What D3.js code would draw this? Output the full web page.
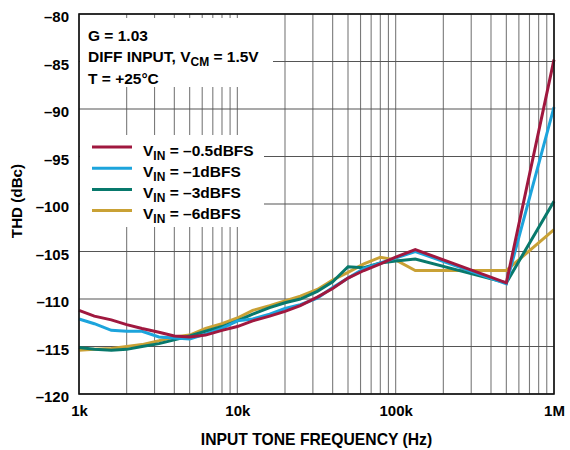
<!DOCTYPE html>
<html>
<head>
<meta charset="utf-8">
<script src="https://cdn.jsdelivr.net/npm/d3@7"></script>
<style>
  html, body { margin: 0; padding: 0; background: #fff; }
  svg { display: block; font-family: "Liberation Sans", Arial, sans-serif; font-weight: bold; }
</style>
</head>
<body>
<svg id="chart" width="570" height="450"></svg>
<script>
// Measurement frequencies (Hz)
const freqs = [1e3, 1.25e3, 1.6e3, 2e3, 2.5e3, 3.2e3, 4e3, 5e3, 6.3e3, 8e3, 10e3, 12.5e3, 16e3, 20e3, 25e3, 32e3, 40e3, 50e3, 63e3, 80e3, 100e3, 133e3, 500e3, 1e6];

// THD (dBc) per input level
const thdM05 = [-111.2, -111.8, -112.2, -112.7, -113.1, -113.5, -113.9, -114.0, -113.8, -113.3, -112.9, -112.3, -111.8, -111.3, -110.7, -109.8, -108.9, -107.8, -107.0, -106.3, -105.6, -104.8, -108.3, -84.8];
const thdM1  = [-112.1, -112.6, -113.3, -113.4, -113.4, -114.0, -114.1, -114.2, -113.7, -113.1, -112.3, -112.1, -111.6, -111.0, -110.6, -109.9, -108.8, -107.8, -106.8, -106.2, -105.7, -105.0, -108.4, -89.8];
const thdM3  = [-115.1, -115.3, -115.4, -115.3, -115.0, -114.7, -114.3, -113.9, -113.4, -112.9, -112.3, -111.6, -110.9, -110.4, -110.0, -109.2, -108.2, -106.6, -106.7, -106.2, -106.0, -105.8, -108.3, -99.7];
const thdM6  = [-115.4, -115.3, -115.2, -115.0, -114.8, -114.4, -114.0, -113.8, -113.1, -112.6, -112.0, -111.2, -110.7, -110.2, -109.7, -109.0, -108.0, -107.2, -106.3, -105.6, -105.9, -107.0, -107.0, -102.7];

const seriesLevels = ["–0.5dBFS", "–1dBFS", "–3dBFS", "–6dBFS"];
const seriesColors = ["#a0183f", "#1ca4dc", "#08796c", "#c9a135"];
const seriesValues = [thdM05, thdM1, thdM3, thdM6];

const yTicks = [-120, -115, -110, -105, -100, -95, -90, -85, -80];
const xTicks = [1e3, 1e4, 1e5, 1e6];
const xTickLabels = ["1k", "10k", "100k", "1M"];
const noteLines = ["G = 1.03", "DIFF INPUT, V|CM| = 1.5V", "T = +25°C"];

const svg = d3.select("#chart");
const L = 79, R = 554, T = 14, B = 394;
const FONT = "Liberation Sans, Arial, sans-serif";

const x = d3.scaleLog().domain([1e3, 1e6]).range([L, R]);
const y = d3.scaleLinear().domain([-120, -80]).range([B, T]);

// Grid: 1..9 per decade verticals, 5 dB horizontals
const minor = [];
for (let d = 1e3; d < 1e6; d *= 10) for (let k = 1; k < 10; k++) minor.push(d * k);
minor.push(1e6);

const grid = svg.append("g");
grid.selectAll("line.v").data(minor).join("line")
  .attr("x1", d => x(d)).attr("x2", d => x(d))
  .attr("y1", T).attr("y2", B)
  .attr("stroke", "#7a7a7a").attr("stroke-width", 1.1);
grid.selectAll("line.h").data(yTicks).join("line")
  .attr("x1", L).attr("x2", R)
  .attr("y1", d => y(d)).attr("y2", d => y(d))
  .attr("stroke", "#555").attr("stroke-width", 1.2);

// White panels behind the notes and legend
svg.append("rect").attr("x", L + 1).attr("y", 18).attr("width", 193).attr("height", 69).attr("fill", "#fff");
svg.append("rect").attr("x", L + 1).attr("y", 135).attr("width", 184).attr("height", 92).attr("fill", "#fff");

// Curves
const line = d3.line().x((d, i) => x(freqs[i])).y(d => y(d));
[3, 2, 1, 0].forEach(s => {
  svg.append("path").datum(seriesValues[s])
    .attr("d", line)
    .attr("fill", "none")
    .attr("stroke", seriesColors[s])
    .attr("stroke-width", 3)
    .attr("stroke-linejoin", "miter");
});

// Frame
svg.append("rect").attr("x", L).attr("y", T).attr("width", R - L).attr("height", B - T)
  .attr("fill", "none").attr("stroke", "#111").attr("stroke-width", 1.6);

// Axes labels
const yAxis = d3.axisLeft(y).tickValues(yTicks).tickSize(0).tickPadding(10)
  .tickFormat(d => "–" + Math.abs(d));
const gy = svg.append("g").attr("transform", `translate(${L},0)`).call(yAxis);
gy.select(".domain").remove();
gy.selectAll("text").attr("font-size", 15).attr("font-weight", "bold")
  .attr("font-family", FONT).attr("fill", "#000").attr("dy", "0.5em");

const xAxis = d3.axisBottom(x).tickValues(xTicks).tickSize(0).tickPadding(11)
  .tickFormat((d, i) => xTickLabels[i]);
const gx = svg.append("g").attr("transform", `translate(0,${B})`).call(xAxis);
gx.select(".domain").remove();
gx.selectAll("text").attr("font-size", 15).attr("font-weight", "bold")
  .attr("font-family", FONT).attr("fill", "#000");

svg.append("text").attr("x", (L + R) / 2).attr("y", 445).attr("text-anchor", "middle")
  .attr("font-size", 15.7).text("INPUT TONE FREQUENCY (Hz)");
svg.append("text").attr("transform", `translate(22,201) rotate(-90)`)
  .attr("text-anchor", "middle").attr("font-size", 15.2).text("THD (dBc)");

// Notes (segments between | are subscripts)
function richText(sel, str) {
  str.split("|").forEach((part, i) => {
    const t = sel.append("tspan").text(part);
    if (i % 2 === 1) t.attr("font-size", 12).attr("dy", 4);
    else if (i > 0) t.attr("dy", -4);
  });
}
noteLines.forEach((s, i) => {
  const t = svg.append("text").attr("x", 88).attr("y", 40.5 + i * 21.6).attr("font-size", 15.5);
  richText(t, s);
});

// Legend
seriesLevels.forEach((lvl, i) => {
  const ly = 147 + i * 21.2;
  svg.append("line").attr("x1", 92).attr("x2", 132).attr("y1", ly).attr("y2", ly)
    .attr("stroke", seriesColors[i]).attr("stroke-width", 3);
  const t = svg.append("text").attr("x", 143).attr("y", ly + 8.5).attr("font-size", 15.5);
  richText(t, "V|IN| = " + lvl);
});
</script>
</body>
</html>
